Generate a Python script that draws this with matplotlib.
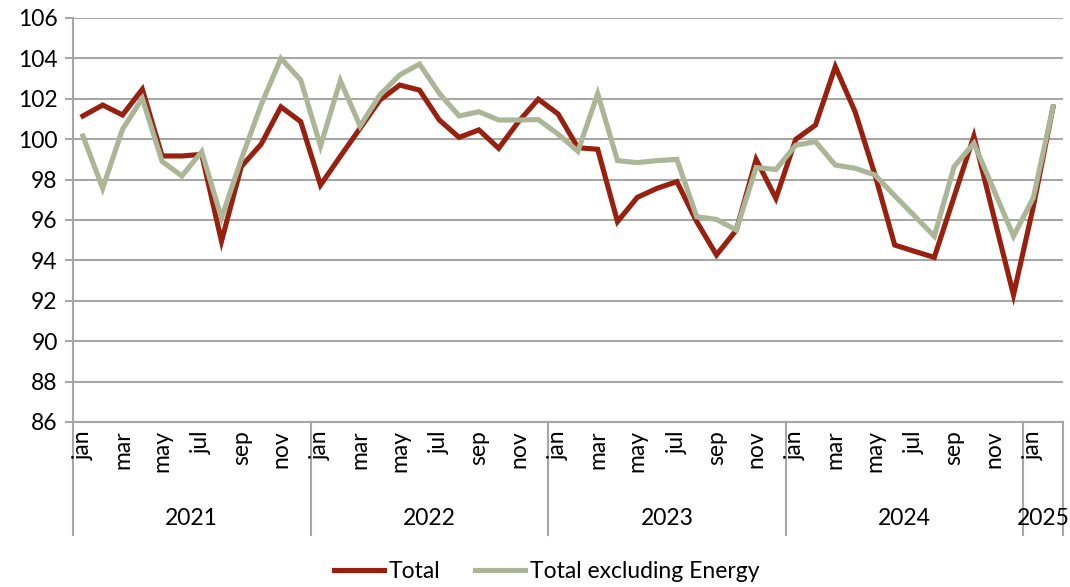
import matplotlib.pyplot as plt
import matplotlib.transforms as mtransforms

plt.rcParams['font.family'] = ['Lato', 'DejaVu Sans']

years = ['2021', '2022', '2023', '2024', '2025']
months = ['jan', 'feb', 'mar', 'apr', 'may', 'jun', 'jul', 'aug', 'sep', 'oct', 'nov', 'dec']
months_per_year = [12, 12, 12, 12, 2]

total = [101.15, 101.69, 101.2, 102.47, 99.17, 99.17, 99.25, 94.95, 98.65, 99.75, 101.6, 100.87,
         97.73, 99.15, 100.54, 101.94, 102.68, 102.43, 100.95, 100.09, 100.46, 99.55, 100.87, 101.98,
         101.25, 99.58, 99.5, 95.92, 97.12, 97.57, 97.9, 95.92, 94.27, 95.5, 99.0, 97.07,
         99.99, 100.7, 103.59, 101.36, 98.25, 94.76, 94.45, 94.15, 97.15, 100.15, 96.2, 92.29,
         96.66, 101.6]

total_ex_energy = [100.16, 97.57, 100.49, 102.02, 98.9, 98.18, 99.38, 96.1, 99.0, 101.7, 104.0, 102.93,
                   99.66, 102.9, 100.65, 102.19, 103.18, 103.72, 102.27, 101.15, 101.36, 100.95, 100.95, 100.97,
                   100.25, 99.4, 102.25, 98.94, 98.84, 98.94, 99.0, 96.16, 96.03, 95.5, 98.6, 98.5,
                   99.7, 99.88, 98.72, 98.56, 98.23, 97.2, 96.2, 95.2, 98.64, 99.8, 97.5, 95.2,
                   97.1, 101.6]

red = '#97200E'
green = '#AAB696'
grid_col = '#A6A6A6'
fs = 16.5

fig = plt.figure(figsize=(10.7, 5.87), dpi=100)
ax = fig.add_axes([73 / 1070, 1 - 422 / 587, 990 / 1070, 404 / 587])

x = list(range(len(total)))
ax.plot(x, total, color=red, lw=3.7, solid_joinstyle='miter', label='Total', zorder=3)
ax.plot(x, total_ex_energy, color=green, lw=3.7, solid_joinstyle='miter',
        label='Total excluding Energy', zorder=3)

ax.set_xlim(-0.5, len(total) - 0.5)
ax.set_ylim(86, 106)
ax.set_yticks(range(86, 107, 2))
ax.yaxis.grid(True, color=grid_col, lw=1.5)
ax.set_axisbelow(True)
for s in ['top', 'right']:
    ax.spines[s].set_visible(False)
for s in ['left', 'bottom']:
    ax.spines[s].set_color(grid_col)
    ax.spines[s].set_linewidth(1.5)
ax.tick_params(axis='y', length=6, width=1.5, color=grid_col, labelsize=fs, pad=5)
ax.set_xticks([])

# two-level category axis
trans = mtransforms.blended_transform_factory(ax.transData, ax.transAxes)
start = 0
edges = [-0.5]
for yr, n in zip(years, months_per_year):
    for k in range(0, n, 2):
        ax.text(start + k, -0.02, months[k], rotation=90, ha='center', va='top',
                fontsize=fs, transform=trans)
    ax.text(start + (n - 1) / 2, -0.24, yr, ha='center', va='center',
            fontsize=fs, transform=trans)
    start += n
    edges.append(start - 0.5)
for e in edges:
    ax.plot([e, e], [0, -0.28], color=grid_col, lw=1.5, transform=trans, clip_on=False)

fig.legend(loc='center', bbox_to_anchor=(0.511, 1 - 572 / 587), ncol=2, frameon=False,
           fontsize=fs, handlelength=2.2, columnspacing=1.5, handletextpad=0.2)

fig.savefig('out.png', dpi=100)
